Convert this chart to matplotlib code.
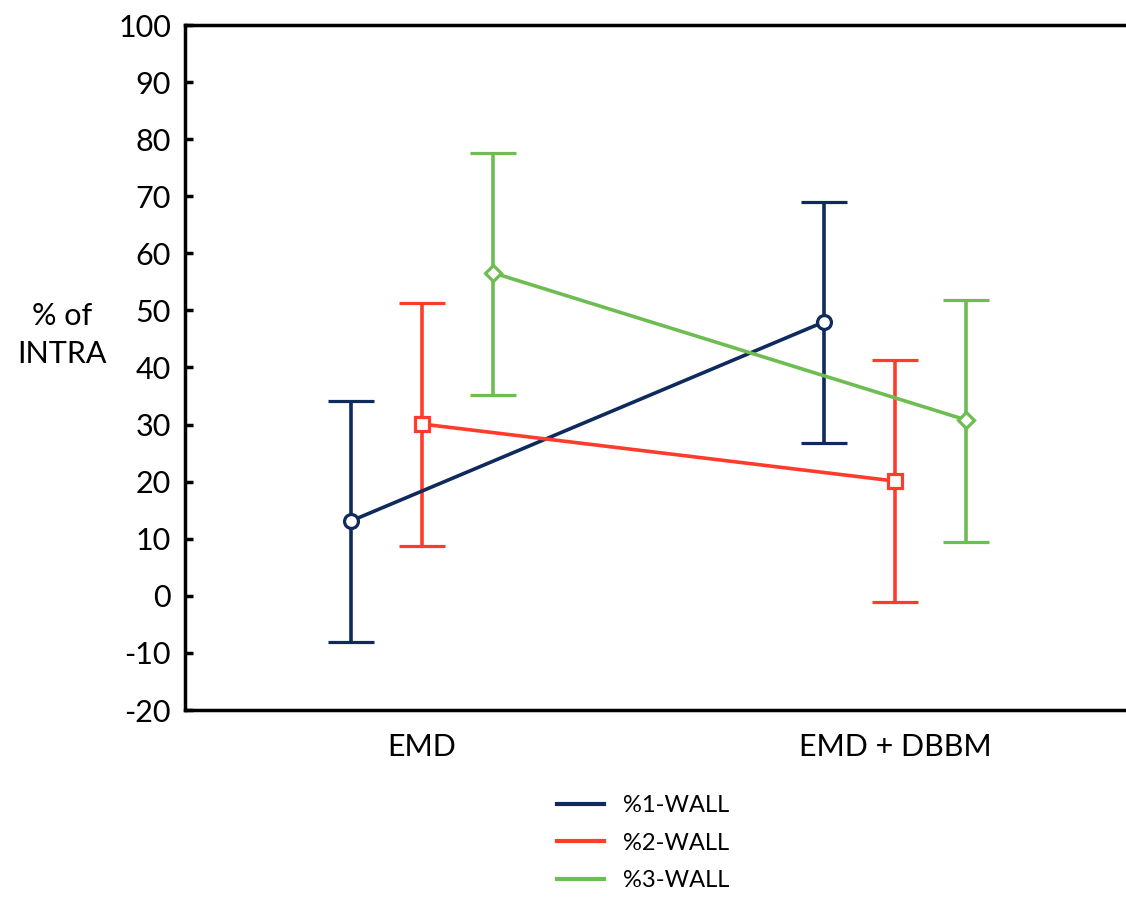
import matplotlib
matplotlib.use("Agg")
import matplotlib.pyplot as plt
import numpy as np

plt.rcParams['font.family'] = ['Lato', 'DejaVu Sans']
plt.rcParams['axes.unicode_minus'] = False

# data
groups = ["EMD", "EMD + DBBM"]
series = ["%1-WALL", "%2-WALL", "%3-WALL"]
means = [[13.1, 48.0], [30.1, 20.1], [56.6, 30.8]]
upper = [[34.2, 69.0], [51.3, 41.3], [77.6, 51.8]]
lower = [[-8.1, 26.8], [8.8, -1.1], [35.2, 9.5]]

colors = ["#0f2a5c", "#ff3b2b", "#6dbd52"]
markers = ["o", "s", "D"]
msizes = [10, 10, 8]
offsets = [-0.15, 0, 0.15]

fig = plt.figure(figsize=(11.26, 8.97), dpi=100)
ax = fig.add_axes([185 / 1126, 1 - 710 / 897, 947 / 1126, 685 / 897])

x = np.arange(len(groups))
for i, name in enumerate(series):
    m = np.array(means[i])
    yerr = [m - np.array(lower[i]), np.array(upper[i]) - m]
    ax.errorbar(x + offsets[i], m, yerr=yerr, color=colors[i], lw=2.6,
                elinewidth=2.6, capsize=16.5, capthick=2.6,
                marker=markers[i], ms=msizes[i], mfc="white", mec=colors[i],
                mew=2.3, label=name)

ax.set_xlim(-0.5, 1.5)
ax.set_ylim(-20, 100)
ax.set_yticks(np.arange(-20, 101, 10))
ax.set_xticks([])
ax.tick_params(axis="y", direction="in", length=6, width=2.5, labelsize=22, pad=10)
for s in ["left", "top", "bottom"]:
    ax.spines[s].set_linewidth(2.5)
ax.spines["right"].set_visible(False)

for xi, g in zip(x, groups):
    ax.text(xi, -26.5, g, ha="center", va="center", fontsize=22,
            transform=ax.transData, clip_on=False)

fig.text(62 / 1126, 1 - 335 / 897, "% of\nINTRA", ha="center", va="center",
         fontsize=22, linespacing=1.45)

handles = [plt.Line2D([], [], color=c, lw=3) for c in colors]
fig.legend(handles, series, loc="center left", frameon=False, fontsize=17,
           bbox_to_anchor=(545 / 1126, 1 - 843 / 897), borderpad=0,
           handlelength=2.0, handletextpad=0.8, labelspacing=0.7)

fig.savefig("out.png", dpi=100)
